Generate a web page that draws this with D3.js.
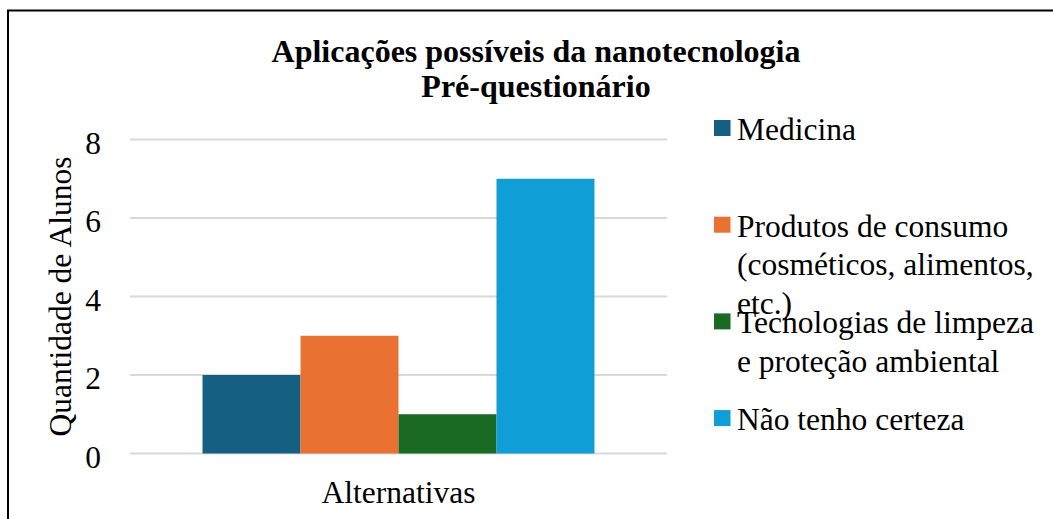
<!DOCTYPE html>
<html>
<head>
<meta charset="utf-8">
<script src="https://cdn.jsdelivr.net/npm/d3@7"></script>
<style>
  body { margin: 0; background: #fff; }
  text { font-family: "Liberation Serif", "Times New Roman", Times, serif; fill: #000; }
</style>
</head>
<body>
<svg id="chart" width="1053" height="519"></svg>
<script>
// data
var categories = ["Alternativas"];
var seriesNames = ["Medicina", "Produtos de consumo (cosméticos, alimentos, etc.)",
                   "Tecnologias de limpeza e proteção ambiental", "Não tenho certeza"];
var seriesValues = [2, 3, 1, 7];
var seriesColors = ["#156082", "#E97132", "#196B24", "#0F9ED5"];
var yTicks = [0, 2, 4, 6, 8];
var titleLines = ["Aplicações possíveis da nanotecnologia", "Pré-questionário"];

var svg = d3.select("#chart");
var fontSize = 31.5;

// plot area
var plot = {left: 130, right: 667, top: 139.5, bottom: 453.5};

var x0 = d3.scaleBand()
    .domain(categories)
    .range([plot.left, plot.right])
    .paddingInner(0)
    .paddingOuter(0.185);
var x1 = d3.scaleBand()
    .domain(seriesNames)
    .range([0, x0.bandwidth()])
    .padding(0);
var y = d3.scaleLinear()
    .domain([0, 8])
    .range([plot.bottom, plot.top]);

// outer border
svg.append("rect")
    .attr("x", 8).attr("y", 10.5)
    .attr("width", 1100).attr("height", 600)
    .attr("fill", "none")
    .attr("stroke", "#000")
    .attr("stroke-width", 2);

// gridlines
svg.append("g")
    .selectAll("line")
    .data(yTicks)
  .enter().append("line")
    .attr("x1", plot.left).attr("x2", plot.right)
    .attr("y1", function(d) { return y(d); })
    .attr("y2", function(d) { return y(d); })
    .attr("stroke", "#d9d9d9")
    .attr("stroke-width", 2);

// y axis tick labels
var y_axis = d3.axisLeft(y).tickValues(yTicks).tickSize(0).tickPadding(0);
var yg = svg.append("g")
    .attr("transform", "translate(101,0)")
    .call(y_axis);
yg.select(".domain").remove();
yg.attr("font-family", null);
yg.selectAll("text")
    .attr("font-size", fontSize)
    .attr("fill", "#000")
    .attr("dy", "0.43em");

// bars
var group = svg.append("g")
    .selectAll("g")
    .data(categories)
  .enter().append("g")
    .attr("transform", function(d) { return "translate(" + x0(d) + ",0)"; });

group.selectAll("rect")
    .data(seriesNames.map(function(n, i) { return {name: n, value: seriesValues[i], color: seriesColors[i]}; }))
  .enter().append("rect")
    .attr("x", function(d) { return x1(d.name); })
    .attr("width", x1.bandwidth())
    .attr("y", function(d) { return y(d.value); })
    .attr("height", function(d) { return y(0) - y(d.value); })
    .attr("fill", function(d) { return d.color; });

// category label
svg.append("g")
    .selectAll("text")
    .data(categories)
  .enter().append("text")
    .attr("x", function(d) { return x0(d) + x0.bandwidth() / 2; })
    .attr("y", 503)
    .attr("text-anchor", "middle")
    .attr("font-size", fontSize)
    .text(function(d) { return d; });

// y axis title
svg.append("text")
    .attr("transform", "translate(71," + ((plot.top + plot.bottom) / 2) + ") rotate(-90)")
    .attr("text-anchor", "middle")
    .attr("font-size", fontSize)
    .text("Quantidade de Alunos");

// chart title
svg.append("g")
    .selectAll("text")
    .data(titleLines)
  .enter().append("text")
    .attr("x", 536)
    .attr("y", function(d, i) { return 62 + i * 35; })
    .attr("text-anchor", "middle")
    .attr("font-size", 32)
    .attr("font-weight", "bold")
    .text(function(d) { return d; });

// legend
var legendX = 714, legendTop = 140, legendStep = 96.7, lineH = 38.5, maxW = 310;
var legend = svg.append("g");

seriesNames.forEach(function(name, i) {
  var by = legendTop + i * legendStep;
  legend.append("rect")
      .attr("x", legendX).attr("y", by - 20)
      .attr("width", 16.5).attr("height", 16)
      .attr("fill", seriesColors[i]);

  var t = legend.append("text")
      .attr("x", legendX + 23)
      .attr("y", by)
      .attr("font-size", fontSize);

  // simple word wrap
  var words = name.split(" "), line = [], lineNo = 0;
  var tspan = t.append("tspan").attr("x", legendX + 23).attr("y", by);
  words.forEach(function(w) {
    line.push(w);
    tspan.text(line.join(" "));
    if (tspan.node().getComputedTextLength() > maxW && line.length > 1) {
      line.pop();
      tspan.text(line.join(" "));
      line = [w];
      lineNo++;
      tspan = t.append("tspan").attr("x", legendX + 23).attr("y", by + lineNo * lineH).text(w);
    }
  });
});
</script>
</body>
</html>
